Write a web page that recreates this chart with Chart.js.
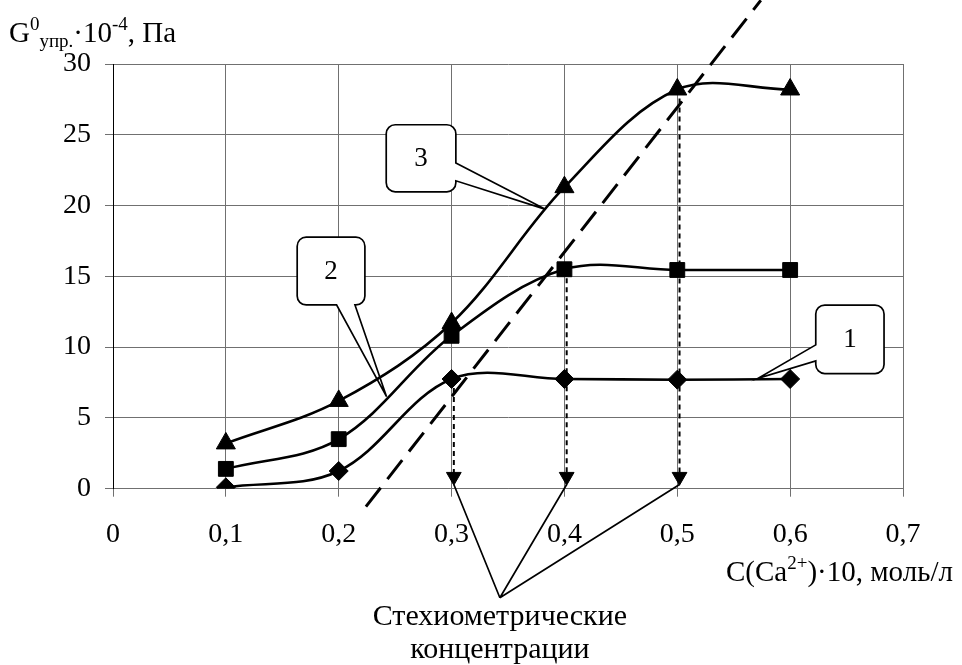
<!DOCTYPE html>
<html><head><meta charset="utf-8">
<script src="https://cdn.jsdelivr.net/npm/chart.js@4/dist/chart.umd.min.js"></script>
<style>html,body{margin:0;padding:0;background:#fff;}#wrap{width:962px;height:665px;position:relative;}</style>
</head><body><div id="wrap"><canvas id="c" width="962" height="665"></canvas></div>
<script>
// ---- data ----
const xValues = [0.1, 0.2, 0.3, 0.4, 0.5, 0.6];
const series1 = [0.1, 1.25, 7.75, 7.75, 7.7, 7.75];
const series2 = [1.4, 3.5, 10.8, 15.5, 15.45, 15.45];
const series3 = [3.2, 6.2, 11.7, 21.3, 28.2, 28.2];
const xTicks = [0, 0.1, 0.2, 0.3, 0.4, 0.5, 0.6, 0.7];
const yTicks = [0, 5, 10, 15, 20, 25, 30];
const trendX = [0.2241, 0.574];
const trendY = [-1.27, 34.5];
const stoichX = [0.3, 0.4, 0.5];
const stoichTop = [7.75, 15.5, 28.2];
const arrowY = [0.85, 0.85, 0.85];
const seriesLabels = ['1', '2', '3'];
const yTitleParts = ['G', '0', 'упр.', '·10', '-4', ', Па'];
const xTitleParts = ['C(Ca', '2+', ')·10, моль/л'];
const noteLines = ['Стехиометрические', 'концентрации'];

// ---- annotation layout (data units) ----
const callouts = [
  {x0: 0.6227, x1: 0.6832, yTop: 12.97, yBot: 8.13, side: 'left', a: 10.16, b: 9.03, tipX: 0.5716, tipY: 7.80},
  {x0: 0.1632, x1: 0.2232, yTop: 17.77, yBot: 12.98, side: 'bottom', a: 0.2144, b: 0.1981, tipX: 0.2424, tipY: 6.50},
  {x0: 0.2421, x1: 0.3038, yTop: 25.71, yBot: 20.97, side: 'right', a: 23.0, b: 21.75, tipX: 0.3827, tipY: 19.75}
];
const noteApex = {x: 0.3428, y: -7.7};

const FONT = "'Liberation Serif', 'Times New Roman', serif";
const FS_TICK = 28;
const FS_TEXT = 29;
const FS_SMALL = 19;
const pts = (xs, ys) => xs.map((x, i) => ({x: x, y: ys[i]}));
const fmt = v => (Math.abs(v) < 1e-9 ? '0' : v.toFixed(1).replace('.', ','));

const base = {borderColor: '#000', backgroundColor: '#000', pointBackgroundColor: '#000', pointBorderColor: '#000', pointBorderWidth: 1, borderWidth: 2.6, tension: 0.35, fill: false};

const datasets = [
  Object.assign({}, base, {label: seriesLabels[0], data: pts(xValues, series1), pointStyle: 'rectRot', pointRadius: 9.5}),
  Object.assign({}, base, {label: seriesLabels[1], data: pts(xValues, series2), pointStyle: 'rect', pointRadius: 10.5}),
  Object.assign({}, base, {label: seriesLabels[2], data: pts(xValues, series3), pointStyle: 'triangle', pointRadius: 11}),
  {label: 'trend', data: pts(trendX, trendY), borderColor: '#000', borderWidth: 3, borderDash: [24, 11], pointRadius: 0, tension: 0, clip: false}
];
stoichX.forEach((x, i) => {
  datasets.push({label: 's' + i, data: [{x: x + 0.002, y: stoichTop[i]}, {x: x + 0.002, y: arrowY[i]}], borderColor: '#000', borderWidth: 2, borderDash: [5, 4], pointRadius: 0, tension: 0});
});
datasets.push({label: 'arrows', data: pts(stoichX.map(x => x + 0.002), arrowY), showLine: false, pointStyle: 'triangle', rotation: 180, pointRadius: 8.5, pointBackgroundColor: '#000', pointBorderColor: '#000', borderColor: '#000', backgroundColor: '#000'});

function drawParts(ctx, parts, x, y, specs) {
  let cx = x;
  parts.forEach((t, i) => {
    const s = specs[i];
    ctx.font = s.size + 'px ' + FONT;
    ctx.fillText(t, cx, y + s.dy);
    cx += ctx.measureText(t).width;
  });
}

const annot = {
  id: 'annot',
  beforeDatasetsDraw(chart) {
    const ctx = chart.ctx, xs = chart.scales.x, ys = chart.scales.y;
    ctx.save();
    callouts.forEach((c, i) => {
      const x0 = xs.getPixelForValue(c.x0), x1 = xs.getPixelForValue(c.x1);
      const y0 = ys.getPixelForValue(c.yTop), y1 = ys.getPixelForValue(c.yBot);
      const tx = xs.getPixelForValue(c.tipX), ty = ys.getPixelForValue(c.tipY);
      const r = 9;
      ctx.beginPath();
      ctx.moveTo(x0 + r, y0);
      ctx.lineTo(x1 - r, y0);
      ctx.arcTo(x1, y0, x1, y0 + r, r);
      if (c.side === 'right') {
        ctx.lineTo(x1, ys.getPixelForValue(c.a));
        ctx.lineTo(tx, ty);
        ctx.lineTo(x1, ys.getPixelForValue(c.b));
      }
      ctx.lineTo(x1, y1 - r);
      ctx.arcTo(x1, y1, x1 - r, y1, r);
      if (c.side === 'bottom') {
        ctx.lineTo(xs.getPixelForValue(c.a), y1);
        ctx.lineTo(tx, ty);
        ctx.lineTo(xs.getPixelForValue(c.b), y1);
      }
      ctx.lineTo(x0 + r, y1);
      ctx.arcTo(x0, y1, x0, y1 - r, r);
      if (c.side === 'left') {
        ctx.lineTo(x0, ys.getPixelForValue(c.b));
        ctx.lineTo(tx, ty);
        ctx.lineTo(x0, ys.getPixelForValue(c.a));
      }
      ctx.lineTo(x0, y0 + r);
      ctx.arcTo(x0, y0, x0 + r, y0, r);
      ctx.closePath();
      ctx.fillStyle = '#fff';
      ctx.fill();
      ctx.lineWidth = 1.7;
      ctx.strokeStyle = '#000';
      ctx.stroke();
      ctx.fillStyle = '#000';
      ctx.font = '27px ' + FONT;
      ctx.textAlign = 'center';
      ctx.textBaseline = 'middle';
      ctx.fillText(seriesLabels[i], (x0 + x1) / 2, (y0 + y1) / 2 + 1);
    });
    ctx.restore();
  },
  afterDraw(chart) {
    const ctx = chart.ctx, xs = chart.scales.x, ys = chart.scales.y;
    ctx.save();
    // note pointers
    const ax = xs.getPixelForValue(noteApex.x), ay = ys.getPixelForValue(noteApex.y);
    ctx.strokeStyle = '#000';
    ctx.lineWidth = 1.7;
    ctx.beginPath();
    stoichX.forEach(x => {
      ctx.moveTo(ax, ay);
      ctx.lineTo(xs.getPixelForValue(x + 0.002), ys.getPixelForValue(0.3));
    });
    ctx.stroke();
    ctx.fillStyle = '#000';
    ctx.textAlign = 'center';
    ctx.textBaseline = 'alphabetic';
    ctx.font = '30px ' + FONT;
    ctx.fillText(noteLines[0], ax, ay + 27);
    ctx.fillText(noteLines[1], ax, ay + 60);
    // titles
    ctx.textAlign = 'left';
    drawParts(ctx, yTitleParts, 9, 42, [
      {size: FS_TEXT, dy: 0}, {size: FS_SMALL, dy: -12}, {size: FS_SMALL, dy: 5}, {size: FS_TEXT, dy: 0}, {size: FS_SMALL, dy: -12}, {size: FS_TEXT, dy: 0}
    ]);
    drawParts(ctx, xTitleParts, 726, 581, [
      {size: FS_TEXT, dy: 0}, {size: FS_SMALL, dy: -12}, {size: FS_TEXT, dy: 0}
    ]);
    ctx.restore();
  }
};

new Chart(document.getElementById('c'), {
  type: 'line',
  data: {datasets: datasets},
  options: {
    responsive: false,
    animation: false,
    events: [],
    layout: {padding: {top: 64, right: 59, left: 0, bottom: 0}},
    plugins: {legend: {display: false}, tooltip: {enabled: false}, title: {display: false}},
    scales: {
      x: {
        type: 'linear', min: xTicks[0], max: xTicks[xTicks.length - 1],
        afterBuildTicks: s => { s.ticks = xTicks.map(v => ({value: v})); },
        afterFit: s => { s.height = 665 - 488.7; },
        ticks: {callback: v => fmt(v), color: '#000', font: {family: FONT, size: FS_TICK}, padding: 21, maxRotation: 0, autoSkip: false},
        grid: {color: '#707070', lineWidth: 1, tickLength: 8},
        border: {color: '#707070', width: 1}
      },
      y: {
        type: 'linear', min: yTicks[0], max: yTicks[yTicks.length - 1],
        afterBuildTicks: s => { s.ticks = yTicks.map(v => ({value: v})); },
        afterFit: s => { s.width = 113; },
        ticks: {callback: v => String(v), color: '#000', font: {family: FONT, size: FS_TICK}, padding: 14},
        grid: {color: '#707070', lineWidth: 1, tickLength: 8},
        border: {color: '#000', width: 1}
      }
    }
  },
  plugins: [annot]
});
</script>
</body></html>
